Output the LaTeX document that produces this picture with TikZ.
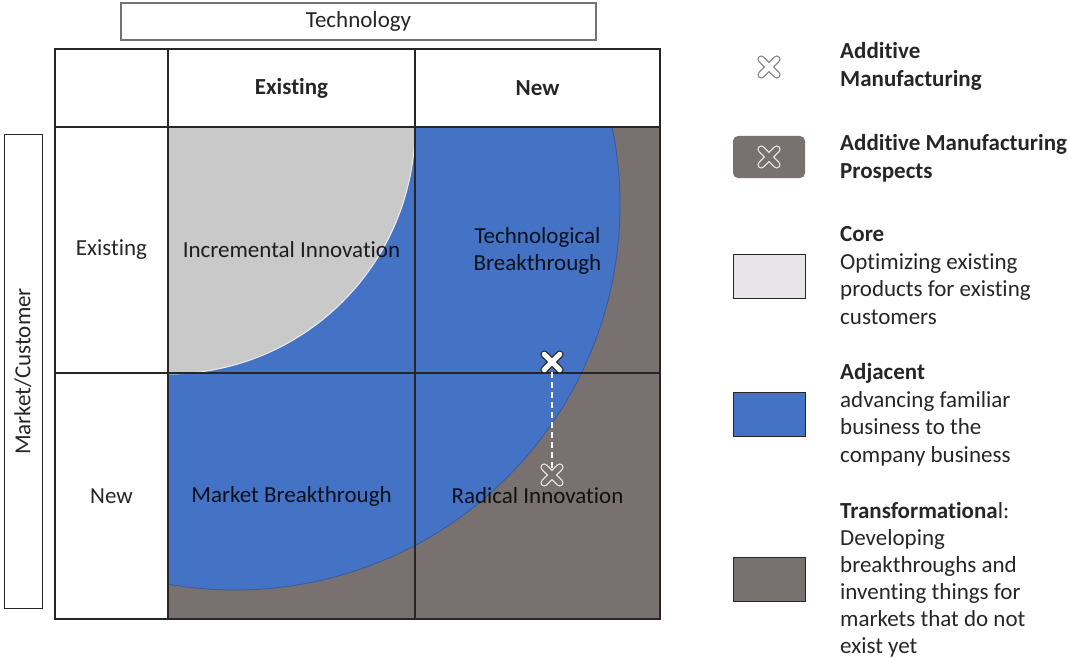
\documentclass[tikz,border=0pt]{standalone}
\usepackage{fontspec}
\setmainfont{Carlito}[Ligatures=NoCommon]
\definecolor{adjblue}{HTML}{4472C4}
\definecolor{trgray}{HTML}{787170}
\definecolor{coregray}{HTML}{C9C9C9}
\definecolor{corebox}{HTML}{E7E5E7}
\definecolor{gridline}{HTML}{262626}
\begin{document}
\begin{tikzpicture}[x=1pt,y=-1pt,
  lbl/.style={font=\fontsize{23}{27}\selectfont,text=black!85},
  hdr/.style={font=\bfseries\fontsize{23}{27}\selectfont,text=black!85},
  cell/.style={font=\fontsize{23}{27}\selectfont,align=center,text=black,text opacity=0.85},
  leg/.style={font=\fontsize{23}{27.5}\selectfont,align=left,anchor=north west,inner sep=0pt,text=black!85},
  legbox/.style={draw=gridline,minimum width=72pt,minimum height=44pt,inner sep=0pt},
  pics/amx/.style 2 args={code={
    \draw[line width=7.5pt,line cap=round,draw=#1] (-6.5,-6.5) -- (6.5,6.5) (-6.5,6.5) -- (6.5,-6.5);
    \draw[line width=5pt,line cap=round,draw=#2] (-6.5,-6.5) -- (6.5,6.5) (-6.5,6.5) -- (6.5,-6.5);
  }}]
  \useasboundingbox (0,0) rectangle (1068,658);

  % matrix fill
  \begin{scope}
    \clip (168,127) rectangle (660,619);
    \fill[trgray] (168,127) rectangle (660,619);
    \filldraw[fill=adjblue,draw=adjblue!80!black,line width=0.8pt] (235,205) circle (385);
    \filldraw[fill=coregray,draw=white!85!gray,line width=1pt] (168,127) circle (247);
  \end{scope}

  % grid
  \draw[gridline,line width=1.2pt] (55,49) rectangle (660,619);
  \draw[gridline,line width=1.2pt] (168,49) -- (168,619);
  \draw[gridline,line width=1.2pt] (415,49) -- (415,619);
  \draw[gridline,line width=1.2pt] (55,127) -- (660,127);
  \draw[gridline,line width=1.2pt] (55,373) -- (660,373);

  % axes
  \node[draw=gray!90!black,line width=1.2pt,minimum width=475pt,minimum height=37pt,lbl] (tech) at (358.5,21.5) {Technology};
  \node[draw=gridline,line width=1pt,minimum width=38pt,minimum height=473pt] (mkt) at (23,371.5) {};
  \node[lbl,rotate=90] (mktlbl) at (mkt.center) {Market/Customer};

  \node[hdr] (colold) at (291.5,88) {Existing};
  \node[hdr] (colnew) at (537.5,88) {New};
  \node[lbl] (rowold) at (111.5,250) {Existing};
  \node[lbl] (rownew) at (111.5,496) {New};

  \node[cell] (incr) at (291.5,250) {Incremental Innovation};
  \node[cell] (techbr) at (537.5,250.5) {Technological\\Breakthrough};
  \node[cell] (mktbr) at (291.5,496) {Market Breakthrough};
  \node[cell] (radical) at (537.5,496) {Radical Innovation};

  % additive manufacturing now and later
  \coordinate (amnow) at (552,362);
  \coordinate (amnext) at (552,475);
  \draw[white,line width=1.8pt,dash pattern=on 6pt off 4pt] (amnow) -- (amnext);
  \pic[scale=1.2] at (amnext) {amx={white!85!gray}{trgray}};
  \pic[scale=1.2] at (amnow) {amx={gridline}{white}};

  % legend
  \coordinate (legam) at (769,67);
  \pic[scale=1.2] at (legam) {amx={gray}{white}};
  \node[fill=trgray,rounded corners=5pt,minimum width=72pt,minimum height=42pt] (legprosp) at (769,157) {};
  \pic[scale=1.2] at (legprosp) {amx={white!85!gray}{trgray}};
  \node[legbox,fill=corebox] (legcore) at (769,276) {};
  \node[legbox,fill=adjblue] (legadj) at (769,414) {};
  \node[legbox,fill=trgray] (legtrans) at (769,579) {};

  \node[leg,font=\bfseries\fontsize{23}{27.5}\selectfont] (txtam) at (840,42.5) {Additive\\Manufacturing};
  \node[leg,font=\bfseries\fontsize{23}{27.5}\selectfont] (txtprosp) at (840,134.5) {Additive Manufacturing\\Prospects};
  \node[leg] (txtcore) at (840,226.5) {\textbf{Core}\\Optimizing existing\\products for existing\\customers};
  \node[leg] (txtadj) at (840,363.5) {\textbf{Adjacent}\\advancing familiar\\business to the\\company business};
  \node[leg,font=\fontsize{23}{27.1}\selectfont] (txttrans) at (840,502) {\textbf{Transformationa}l:\\Developing\\breakthroughs and\\inventing things for\\markets that do not\\exist yet};
\end{tikzpicture}
\end{document}
